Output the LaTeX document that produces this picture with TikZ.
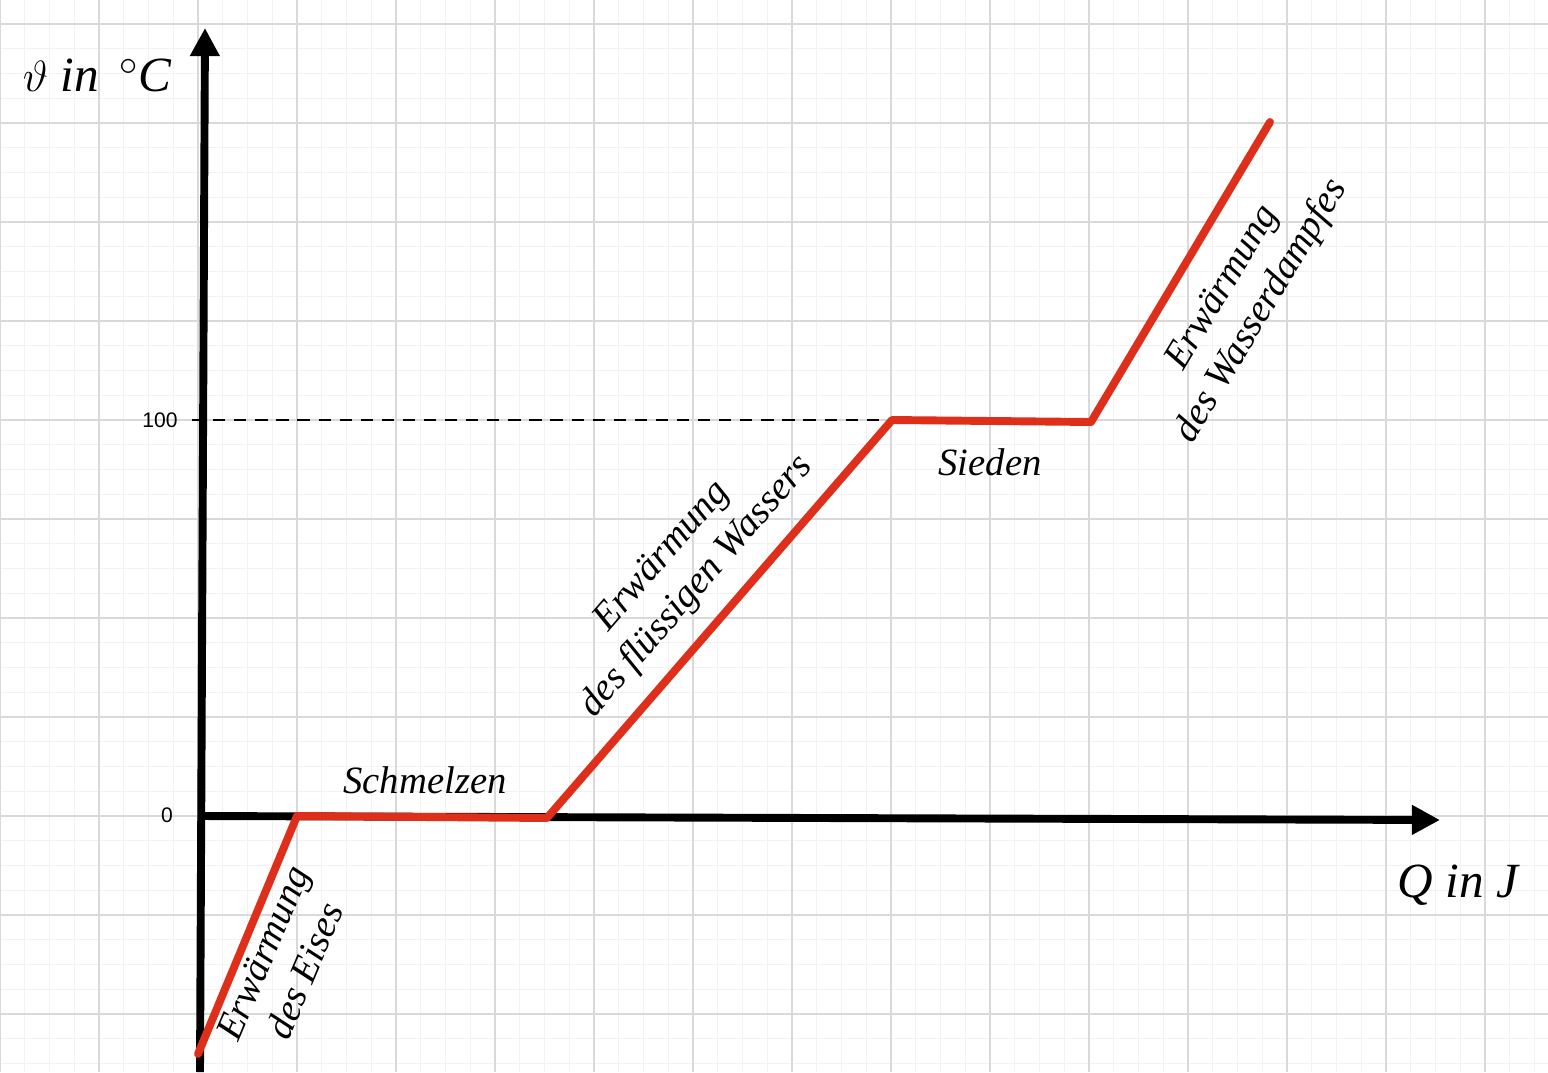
\documentclass[tikz,border=0pt]{standalone}
\usepackage{fontspec}
\setmainfont{Liberation Serif}
\setsansfont{Liberation Sans}
\usetikzlibrary{arrows.meta}
\tikzset{
  axis/.style = {line width=4.5pt, -{Triangle[length=16pt,width=16pt]}},
  curve/.style = {line width=4.5pt, draw={rgb,255:red,222;green,47;blue,26}, line cap=round, line join=round},
  lbl/.style = {font=\itshape\fontsize{22}{26}\selectfont, align=center, inner sep=0pt},
  big/.style = {font=\itshape\fontsize{28}{32}\selectfont, inner sep=0pt},
  tick/.style = {font=\sffamily\fontsize{12}{14}\selectfont, inner sep=0pt}
}
\begin{document}
\begin{tikzpicture}[x=0.02cm, y=-0.02cm]
	\useasboundingbox (0,0) rectangle (1548,1072);
	%Grid
	\foreach \x in {0,24.75,...,1548}
		\draw[black!5, line width=0.5pt] (\x,0) -- (\x,1072);
	\foreach \y in {-0.75,24,...,1072}
		\draw[black!5, line width=0.5pt] (0,\y) -- (1548,\y);
	\foreach \x in {0,99,...,1548}
		\draw[black!15, line width=0.6pt] (\x,0) -- (\x,1072);
	\foreach \y in {24,123,...,1072}
		\draw[black!15, line width=0.6pt] (0,\y) -- (1548,\y);
	%Axes
	\coordinate (ybot) at (200,1072);
	\coordinate (ytop) at (205,28);
	\coordinate (xleft) at (198,816);
	\coordinate (xright) at (1440,820);
	\draw[axis] (ybot) -- (ytop);
	\draw[axis] (xleft) -- (xright);
	\node[big] (ylabel) at (97,75) {$\vartheta$ in \,$^\circ$C};
	\node[big] (xlabel) at (1458,885) {Q in J};
	\node[tick] (t100) at (160,420) {100};
	\node[tick] (t0) at (167,815) {0};
	%Curve
	\coordinate (a) at (198,1054);
	\coordinate (b) at (297,816);
	\coordinate (c) at (547,818);
	\coordinate (d) at (892,420);
	\coordinate (e) at (1091,422);
	\coordinate (f) at (1270,122);
	\coordinate (h) at (192,420);
	\draw[dashed, line width=1.3pt, dash pattern=on 7pt off 5pt] (h) -- (d);
	\draw[curve] (a) -- (b) -- (c) -- (d) -- (e) -- (f);
	%Labels
	\node[lbl, rotate=67] (eis) at (284,962) {Erwärmung\\des Eises};
	\node[lbl] (schmelz) at (425,780) {Schmelzen};
	\node[lbl, rotate=49] (wasser) at (680,572) {Erwärmung\\des flüssigen Wassers};
	\node[lbl] (sieden) at (990,462) {Sieden};
	\node[lbl, rotate=59] (dampf) at (1243,300) {Erwärmung\\des Wasserdampfes};
\end{tikzpicture}
\end{document}
